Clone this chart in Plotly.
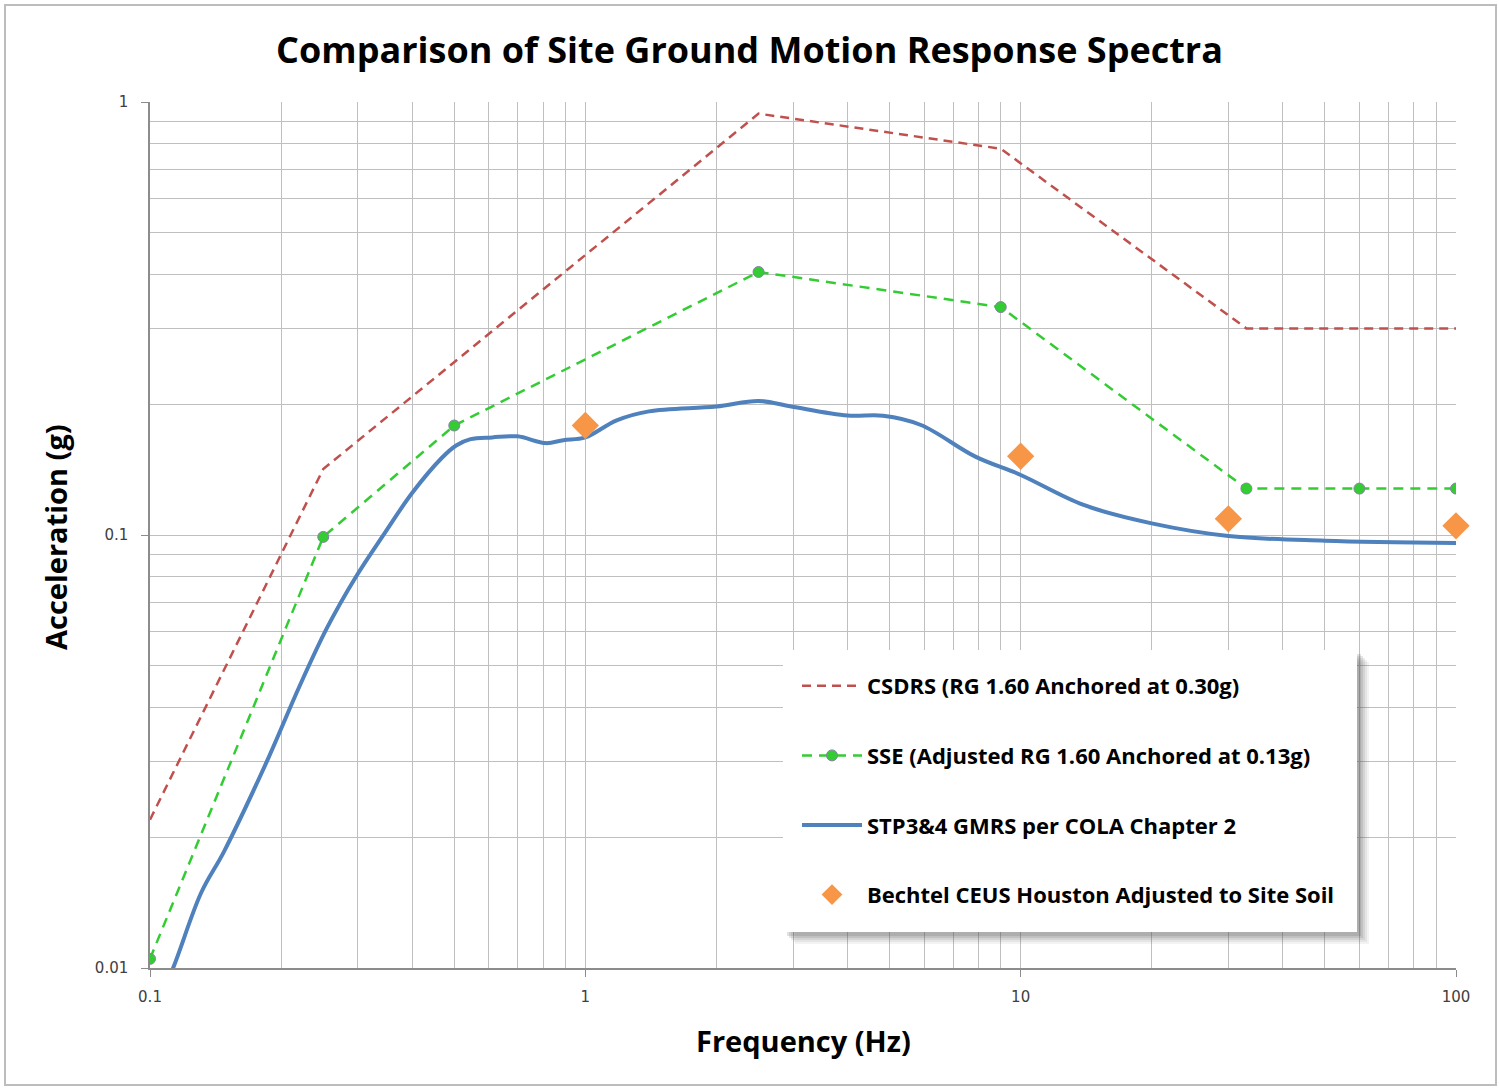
import plotly.graph_objects as go

# ---------------- data ----------------
csdrs_f = [0.1, 0.25, 2.5, 9, 33, 100]
csdrs_a = [0.022, 0.142, 0.94, 0.78, 0.30, 0.30]

sse_f = [0.1, 0.25, 0.5, 2.5, 9, 33, 60, 100]
sse_a = [0.0105, 0.099, 0.179, 0.405, 0.336, 0.128, 0.128, 0.128]

gmrs_f = [0.1, 0.113, 0.131, 0.148, 0.185, 0.22, 0.255, 0.297, 0.346, 0.40,
          0.469, 0.505, 0.545, 0.611, 0.698, 0.812, 0.89, 1.0, 1.18, 1.4, 2.0,
          2.5, 2.97, 4.0, 4.83, 5.9, 7.87, 10, 13.95, 20, 30, 50, 100]
gmrs_a = [0.0075, 0.010, 0.0149, 0.0186, 0.0298, 0.0445, 0.061, 0.080, 0.101, 0.125,
          0.151, 0.161, 0.1665, 0.168, 0.169, 0.163, 0.1656, 0.168, 0.184, 0.193, 0.198,
          0.204, 0.198, 0.1887, 0.1885, 0.1795, 0.1517, 0.1376, 0.1173, 0.1064, 0.0995, 0.097, 0.0958]

bechtel_f = [1, 10, 30, 100]
bechtel_a = [0.179, 0.152, 0.109, 0.105]

x_tickvals = [0.1, 1, 10, 100]
x_ticktext = ["0.1", "1", "10", "100"]
y_tickvals = [0.01, 0.1, 1]
y_ticktext = ["0.01", "0.1", "1"]

names = ["CSDRS (RG 1.60 Anchored at 0.30g)",
         "SSE (Adjusted RG 1.60 Anchored at 0.13g)",
         "STP3&4 GMRS per COLA Chapter 2",
         "Bechtel CEUS Houston Adjusted to Site Soil"]

title_text = "Comparison of Site Ground Motion Response Spectra"
x_title = "Frequency (Hz)"
y_title = "Acceleration (g)"

# ---------------- figure ----------------
FONT = "Open Sans"
TICKFONT = "DejaVu Sans"
W, H = 1499, 1088
L, R, T, B = 150, 43, 102, 120
PW, PH = W - L - R, H - T - B


def px2paper(px, py):
    return (px - L) / PW, (H - B - py) / PH


fig = go.Figure()

fig.add_trace(go.Scatter(
    x=csdrs_f, y=csdrs_a, mode="lines", name=names[0], legendgroup="a",
    line=dict(color="#C0504D", width=2.5, dash="9px,6px")))

fig.add_trace(go.Scatter(
    x=sse_f, y=sse_a, mode="lines+markers", name=names[1], legendgroup="b",
    line=dict(color="#33CC33", width=2.5, dash="10px,7px"),
    marker=dict(symbol="circle", size=11, color="#33CC33",
                line=dict(color="#8A7FA8", width=1))))

fig.add_trace(go.Scatter(
    x=gmrs_f, y=gmrs_a, mode="lines", name=names[2], legendgroup="c",
    line=dict(color="#4F81BD", width=4, shape="spline", smoothing=1.0)))

fig.add_trace(go.Scatter(
    x=bechtel_f, y=bechtel_a, mode="markers", name=names[3], legendgroup="d",
    marker=dict(symbol="diamond", size=21, color="#F79646"), cliponaxis=False))

minor_vals = [k * 10 ** e for e in (-1, 0, 1) for k in range(2, 10)]
minor_y = [k * 10 ** e for e in (-2, -1) for k in range(2, 10)]

grid_col = "#BFBFBF"
axis_col = "#8C8C8C"

fig.update_xaxes(
    type="log", range=[-1, 2],
    tickvals=x_tickvals, ticktext=x_ticktext,
    ticks="outside", ticklen=7, tickcolor=axis_col, ticklabelstandoff=7,
    showgrid=True, gridcolor=grid_col, gridwidth=1,
    minor=dict(tickvals=minor_vals, showgrid=True, gridcolor=grid_col, gridwidth=1, ticks=""),
    showline=True, linecolor=axis_col, linewidth=1.5, mirror=False,
    tickfont=dict(family=TICKFONT, size=15, color="#404040"),
    zeroline=False)

fig.update_yaxes(
    type="log", range=[-2, 0],
    tickvals=y_tickvals, ticktext=y_ticktext,
    ticks="outside", ticklen=7, tickcolor=axis_col, ticklabelstandoff=10,
    showgrid=True, gridcolor=grid_col, gridwidth=1,
    minor=dict(tickvals=minor_y, showgrid=True, gridcolor=grid_col, gridwidth=1, ticks=""),
    showline=True, linecolor=axis_col, linewidth=1.5,
    tickfont=dict(family=TICKFONT, size=15, color="#404040"),
    zeroline=False)

shapes = []
# outer chart border
bx0, by0 = px2paper(5, 5)
bx1, by1 = px2paper(1496, 1085)
shapes.append(dict(type="rect", xref="paper", yref="paper", x0=bx0, y0=by1, x1=bx1, y1=by0,
                   line=dict(color="#BDBDBD", width=2), fillcolor="rgba(0,0,0,0)", layer="below"))

# legend shadow + box
lx0, ly0, lx1, ly1 = 783, 650, 1357, 932
for off, op in [(12, 0.07), (10, 0.09), (8, 0.12), (6, 0.15), (4, 0.18)]:
    a0, b0 = px2paper(lx0 + off, ly0 + off)
    a1, b1 = px2paper(lx1 + off, ly1 + off)
    shapes.append(dict(type="rect", xref="paper", yref="paper", x0=a0, y0=b1, x1=a1, y1=b0,
                       line=dict(width=0), fillcolor=f"rgba(90,90,90,{op})", layer="above"))
a0, b0 = px2paper(lx0, ly0)
a1, b1 = px2paper(lx1, ly1)
shapes.append(dict(type="rect", xref="paper", yref="paper", x0=a0, y0=b1, x1=a1, y1=b0,
                   line=dict(width=0), fillcolor="white", layer="above"))

legx, legy = px2paper(797, 665)

ax_x, ax_y = px2paper(803, 1040)
ay_x, ay_y = px2paper(55, 537)

fig.update_layout(
    width=W, height=H,
    margin=dict(l=L, r=R, t=T, b=B),
    paper_bgcolor="white", plot_bgcolor="white",
    title=dict(text=f"<b>{title_text}</b>", x=0.5, xanchor="center",
               y=1 - 50 / H, yanchor="middle", yref="container",
               font=dict(family=FONT, size=36, color="black")),
    showlegend=True,
    legend=dict(x=legx, y=legy, xanchor="left", yanchor="top",
                bgcolor="rgba(0,0,0,0)", borderwidth=0,
                font=dict(family=FONT, size=22, color="black", weight="bold"),
                tracegroupgap=38, itemwidth=60),
    shapes=shapes,
    annotations=[
        dict(text=f"<b>{x_title}</b>", x=ax_x, y=ax_y, xref="paper", yref="paper",
             showarrow=False, xanchor="center", yanchor="middle",
             font=dict(family=FONT, size=29, color="black")),
        dict(text=f"<b>{y_title}</b>", x=ay_x, y=ay_y, xref="paper", yref="paper",
             showarrow=False, xanchor="center", yanchor="middle", textangle=-90,
             font=dict(family=FONT, size=29, color="black")),
    ],
)

fig.write_html("out.html")
